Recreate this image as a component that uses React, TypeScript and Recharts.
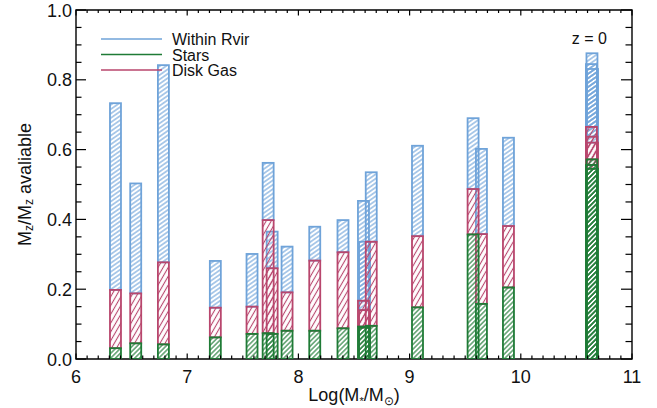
import React from "react";
import { ComposedChart, Bar, XAxis, YAxis, ReferenceArea, Label } from "recharts";

// log stellar mass of each galaxy (x position of its bar)
const logMass = [
  6.355, 6.537, 6.786, 7.253, 7.583, 7.728, 7.764, 7.898, 8.147, 8.401,
  8.585, 8.595, 8.655, 9.071, 9.571, 9.646, 9.889, 10.635, 10.64, 10.645,
];
// top of each stacked segment
const starsTop = [
  0.031, 0.045, 0.042, 0.062, 0.072, 0.074, 0.072, 0.081, 0.081, 0.088,
  0.093, 0.09, 0.095, 0.148, 0.357, 0.158, 0.205, 0.556, 0.572, 0.545,
];
const diskGasTop = [
  0.198, 0.188, 0.277, 0.147, 0.15, 0.398, 0.26, 0.191, 0.282, 0.306,
  0.167, 0.14, 0.336, 0.352, 0.487, 0.358, 0.381, 0.665, 0.637, 0.62,
];
const rvirTop = [
  0.733, 0.503, 0.842, 0.281, 0.301, 0.562, 0.365, 0.322, 0.379, 0.398,
  0.453, 0.336, 0.535, 0.611, 0.69, 0.602, 0.634, 0.845, 0.876, 0.831,
];

const xTicks = [6, 7, 8, 9, 10, 11];
const yTicks = [0, 0.2, 0.4, 0.6, 0.8, 1.0];

const data = logMass.map((m, i) => ({
  m,
  stars: [0, starsTop[i]],
  gas: [starsTop[i], diskGasTop[i]],
  rvir: [diskGasTop[i], rvirTop[i]],
}));

// minor ticks: every 0.1 on x, every 0.05 on y
const xMinor: number[] = [];
for (let i = 60; i <= 110; i++) xMinor.push(i / 10);
const yMinor: number[] = [];
for (let i = 0; i <= 20; i++) yMinor.push(i / 20);

const W = 657;
const H = 408;
const M = { top: 10, right: 25, bottom: 0, left: 0 };
const Y_AXIS_W = 76;
const X_AXIS_H = 49;
const PLOT_TOP = M.top;
const PLOT_RIGHT = W - M.right;
const BAR_W = 11;
const FONT = "'Liberation Sans', Arial, Helvetica, sans-serif";

const SERIES = [
  { key: "rvir", name: "Within Rvir", color: "#6fa3d9", angle: 55, gap: 3.6 },
  { key: "stars", name: "Stars", color: "#1f7b36", angle: 45, gap: 3.4 },
  { key: "gas", name: "Disk Gas", color: "#b8466d", angle: 30, gap: 4.4 },
];
const DRAW_ORDER = ["rvir", "gas", "stars"];

const isMajor = (v: number, step: number) =>
  xTicks.concat(yTicks).includes(v) && Math.abs(v / step - Math.round(v / step)) < 1e-6;

const XTick = (props: any) => {
  const { x, y, payload } = props;
  const v = payload.value;
  const major = xTicks.includes(v);
  return (
    <g>
      <line x1={x} x2={x} y1={y} y2={y - (major ? 5.5 : 3.5)} stroke="#000" strokeWidth={1.2} />
      <line x1={x} x2={x} y1={PLOT_TOP} y2={PLOT_TOP + (major ? 5.5 : 3)} stroke="#000" strokeWidth={1.2} />
      {major && (
        <text x={x} y={y + 24} textAnchor="middle" fontSize={18} fontFamily={FONT} fill="#111">
          {v}
        </text>
      )}
    </g>
  );
};

const YTick = (props: any) => {
  const { x, y, payload } = props;
  const v = payload.value;
  const major = yTicks.some((t) => Math.abs(t - v) < 1e-6);
  return (
    <g>
      <line x1={x} x2={x + (major ? 10 : 5.5)} y1={y} y2={y} stroke="#000" strokeWidth={1.2} />
      <line x1={PLOT_RIGHT} x2={PLOT_RIGHT - (major ? 11 : 6.5)} y1={y} y2={y} stroke="#000" strokeWidth={1.2} />
      {major && (
        <text x={x - 4} y={y + 6.5} textAnchor="end" fontSize={18} fontFamily={FONT} fill="#111">
          {v.toFixed(1)}
        </text>
      )}
    </g>
  );
};

const XTitle = (props: any) => {
  const vb = props.viewBox;
  return (
    <text x={vb.x + vb.width / 2} y={vb.y + 42} textAnchor="middle" fontSize={18} fontFamily={FONT} fill="#111">
      <tspan>Log(M</tspan>
      <tspan fontSize={11} dy={4}>*</tspan>
      <tspan dy={-4}>/M</tspan>
      <tspan fontSize={12} dy={4}>⊙</tspan>
      <tspan dy={-4}>)</tspan>
    </text>
  );
};

const YTitle = (props: any) => {
  const vb = props.viewBox;
  const cx = 25;
  const cy = vb.y + vb.height / 2;
  return (
    <text
      x={cx}
      y={cy}
      transform={`rotate(-90 ${cx} ${cy})`}
      textAnchor="middle"
      dominantBaseline="central"
      fontSize={18}
      fontFamily={FONT}
      fill="#111"
    >
      <tspan>M</tspan>
      <tspan fontSize={12} dy={4}>z</tspan>
      <tspan dy={-4}>/M</tspan>
      <tspan fontSize={12} dy={4}>z</tspan>
      <tspan dy={-4}> avaliable</tspan>
    </text>
  );
};

const hatchShape = (s: (typeof SERIES)[number]) => (props: any) => {
  const { x, y, width, height } = props;
  if (x == null || y == null || height == null || isNaN(height)) return null;
  const cx = x + width / 2;
  const top = height < 0 ? y + height : y;
  return (
    <rect
      x={cx - BAR_W / 2}
      y={top}
      width={BAR_W}
      height={Math.abs(height)}
      fill={`url(#hatch-${s.key})`}
      stroke={s.color}
      strokeWidth={1.8}
    />
  );
};

const Patterns = () => (
  <svg width={0} height={0} style={{ position: "absolute" }}>
    <defs>
      {SERIES.map((s) => (
        <pattern
          key={s.key}
          id={`hatch-${s.key}`}
          patternUnits="userSpaceOnUse"
          width={s.gap}
          height={s.gap}
          patternTransform={`rotate(${s.angle})`}
        >
          <line x1={s.gap / 2} y1={0} x2={s.gap / 2} y2={s.gap} stroke={s.color} strokeWidth={1.1} />
        </pattern>
      ))}
    </defs>
  </svg>
);

const LegendOverlay = () => (
  <svg width={W} height={H} style={{ position: "absolute", left: 0, top: 0, pointerEvents: "none" }}>
    {SERIES.map((s, i) => {
      const ly = 39 + i * 15.5;
      return (
        <g key={s.key}>
          <line x1={101} x2={162} y1={ly} y2={ly} stroke={s.color} strokeWidth={1.3} />
          <text x={172} y={ly + 6} fontSize={16} fontFamily={FONT} fill="#111">
            {s.name}
          </text>
        </g>
      );
    })}
    <text x={607} y={44} textAnchor="end" fontSize={16} fontFamily={FONT} fill="#111">
      z = 0
    </text>
  </svg>
);

export default function App() {
  return (
    <div style={{ position: "absolute", left: 0, top: 0, width: W, height: H, background: "#fff" }}>
      <Patterns />
      <ComposedChart width={W} height={H} data={data} margin={M}>
        <XAxis
          xAxisId="xb"
          dataKey="m"
          type="number"
          domain={[6, 11]}
          allowDataOverflow
          ticks={xMinor}
          interval={0}
          tick={XTick}
          tickSize={0}
          tickMargin={0}
          tickLine={false}
          axisLine={false}
          height={X_AXIS_H}
        >
          <Label content={XTitle} />
        </XAxis>
        <XAxis xAxisId="xr" dataKey="m" type="number" domain={[6, 11]} allowDataOverflow hide />
        <XAxis xAxisId="xg" dataKey="m" type="number" domain={[6, 11]} allowDataOverflow hide />
        <YAxis
          type="number"
          domain={[0, 1]}
          allowDataOverflow
          ticks={yMinor}
          interval={0}
          tick={YTick}
          tickSize={0}
          tickMargin={0}
          tickLine={false}
          axisLine={false}
          width={Y_AXIS_W}
        >
          <Label content={YTitle} />
        </YAxis>
        {DRAW_ORDER.map((k, i) => {
          const s = SERIES.find((q) => q.key === k)!;
          return (
            <Bar
              key={k}
              xAxisId={["xb", "xr", "xg"][i]}
              dataKey={k}
              name={s.name}
              shape={hatchShape(s)}
              isAnimationActive={false}
            />
          );
        })}
        <ReferenceArea
          xAxisId="xb"
          x1={6}
          x2={11}
          y1={0}
          y2={1}
          fill="none"
          stroke="#000"
          strokeWidth={1.4}
          ifOverflow="visible"
        />
      </ComposedChart>
      <LegendOverlay />
    </div>
  );
}
